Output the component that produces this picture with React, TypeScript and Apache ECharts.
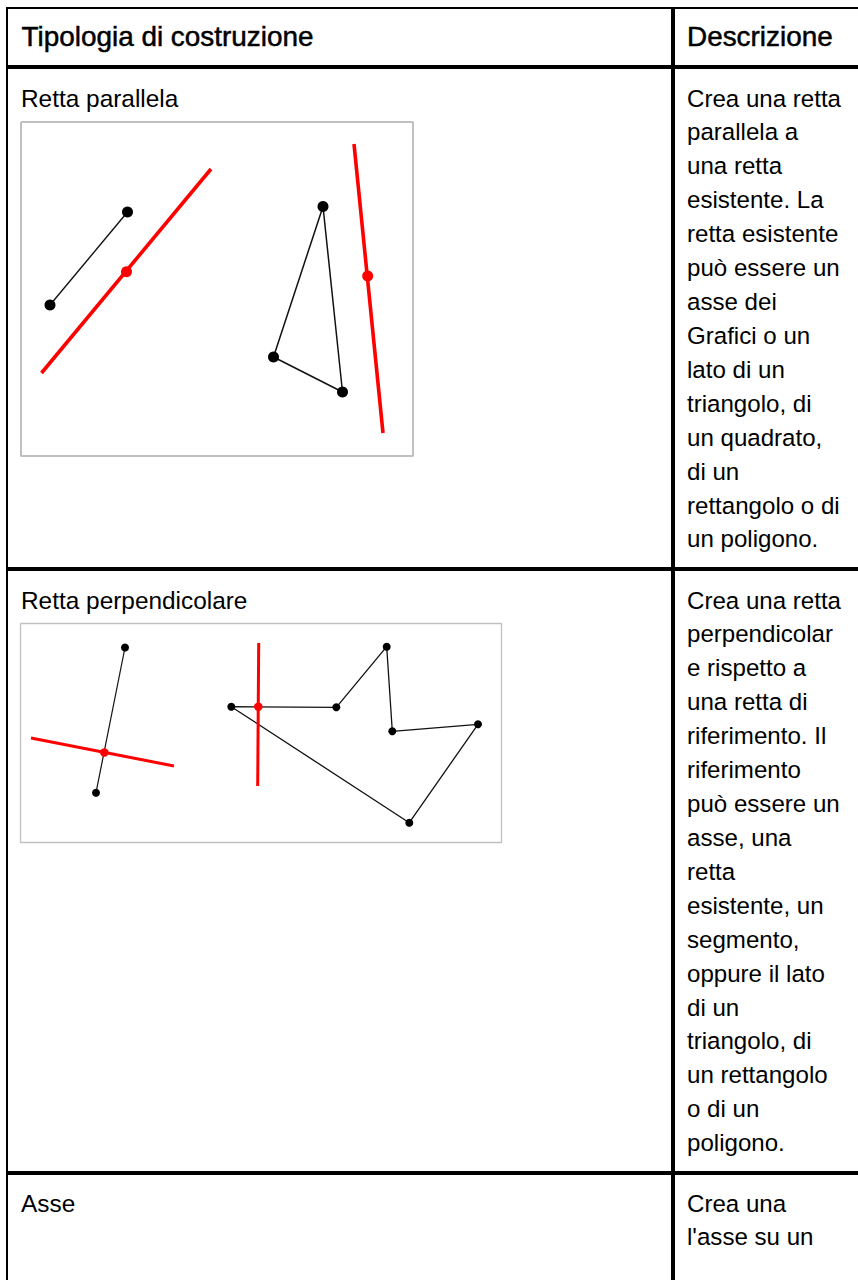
import React, { useEffect, useRef } from "react";
import * as echarts from "echarts";

const headers = ["Tipologia di costruzione", "Descrizione"];
const rowTitles = ["Retta parallela", "Retta perpendicolare", "Asse"];
const descParallel = ["Crea una retta", "parallela a", "una retta", "esistente. La", "retta esistente", "può essere un", "asse dei", "Grafici o un", "lato di un", "triangolo, di", "un quadrato,", "di un", "rettangolo o di", "un poligono."];
const descPerp = ["Crea una retta", "perpendicolar", "e rispetto a", "una retta di", "riferimento. Il", "riferimento", "può essere un", "asse, una", "retta", "esistente, un", "segmento,", "oppure il lato", "di un", "triangolo, di", "un rettangolo", "o di un", "poligono."];
const descAxis = ["Crea una", "l'asse su un"];

// Shapes, as [x, y]
const frame1 = [[21, 122], [413, 122], [413, 456], [21, 456], [21, 122]];
const frame2 = [[20.5, 623.5], [501.5, 623.5], [501.5, 842.5], [20.5, 842.5], [20.5, 623.5]];
const segment1 = [[127.5, 212], [50, 305]];
const triangle = [[323, 206.5], [273.5, 357], [342.5, 392], [323, 206.5]];
const redLines1 = [[[211, 169], [41.5, 373]], [[354, 144], [383, 433]]];
const redDots1 = [[126.5, 271.7], [367.7, 276]];
const segment2 = [[125, 647.5], [96, 792.7]];
const polygon = [[231.3, 706.7], [336.3, 707.3], [386.7, 646.7], [392.3, 731.3], [478, 724.3], [409.3, 822.7], [231.3, 706.7]];
const redLines2 = [[[31, 738], [174, 766]], [[258.7, 643], [257.7, 786]]];
const redDots2 = [[104.3, 752.5], [258.3, 706.7]];

// Table rules
const hRules = [
  { y: 8, w: 2 },
  { y: 67, w: 4 },
  { y: 569, w: 4 },
  { y: 1173, w: 4 },
];
const vRules = [
  { x: 7, w: 2, from: 7 },
  { x: 673, w: 4, from: 7 },
];

const BLACK = "#000000";
const RED = "#ff0000";
const FONT = "'Liberation Sans', Arial, sans-serif";

function lineSeries(data: number[][], color: string, width: number, z = 3) {
  return { type: "line", data, z, silent: true, showSymbol: false, symbol: "none", lineStyle: { color, width, cap: "butt" }, clip: false };
}
function dots(data: number[][], color: string, size: number, z = 5) {
  return { type: "scatter", data, z, silent: true, symbol: "circle", symbolSize: size, itemStyle: { color, opacity: 1 }, clip: false };
}

function textEl(text: string, x: number, y: number, size: number, bold = false) {
  return {
    type: "text",
    x,
    y,
    silent: true,
    style: {
      text,
      fill: "#000000",
      font: `${size}px ${FONT}`,
      textVerticalAlign: "middle",
      textBaseline: "middle",
      ...(bold ? { stroke: "#000000", lineWidth: 0.5 } : {}),
    },
  };
}

export default function App() {
  const ref = useRef<HTMLDivElement>(null);
  useEffect(() => {
    const chart = echarts.init(ref.current!, undefined, { renderer: "svg" });
    const lh = 33.92;
    const texts: any[] = [
      textEl(headers[0], 21.5, 36, 27.9, true),
      textEl(headers[1], 687, 36, 27.9, true),
      textEl(rowTitles[0], 21, 98, 24.4),
      textEl(rowTitles[1], 21, 600, 24.4),
      textEl(rowTitles[2], 21, 1203, 24.4),
      ...descParallel.map((t, i) => textEl(t, 687, 98 + i * lh, 24.1)),
      ...descPerp.map((t, i) => textEl(t, 687, 600 + i * lh, 24.1)),
      ...descAxis.map((t, i) => textEl(t, 687, 1203 + i * lh, 24.1)),
    ];
    chart.setOption({
      animation: false,
      backgroundColor: "#ffffff",
      grid: { left: 0, top: 0, width: 858, height: 1280, show: false },
      xAxis: { type: "value", min: 0, max: 858, show: false },
      yAxis: { type: "value", min: 0, max: 1280, inverse: true, show: false },
      graphic: { elements: texts },
      series: [
        ...hRules.map((r) => lineSeries([[6, r.y], [858, r.y]], BLACK, r.w, 8)),
        ...vRules.map((r) => lineSeries([[r.x, r.from], [r.x, 1280]], BLACK, r.w, 8)),
        lineSeries(frame1, "#c0c0c0", 2, 1),
        lineSeries(frame2, "#c0c0c0", 1.3, 1),
        lineSeries(segment1, "#111111", 1.4),
        lineSeries(triangle, "#111111", 1.5),
        lineSeries(segment2, "#111111", 1.2),
        lineSeries(polygon, "#111111", 1.3),
        ...redLines1.map((l) => lineSeries(l, RED, 3.6, 4)),
        ...redLines2.map((l) => lineSeries(l, RED, 3, 4)),
        dots([...segment1, ...triangle.slice(0, 3)], BLACK, 11),
        dots(redDots1, RED, 11),
        dots([...segment2, ...polygon.slice(0, 6)], BLACK, 8),
        dots(redDots2, RED, 8.5),
      ],
    });
    return () => chart.dispose();
  }, []);
  return <div ref={ref} style={{ position: "absolute", left: 0, top: 0, width: 858, height: 1280 }} />;
}
